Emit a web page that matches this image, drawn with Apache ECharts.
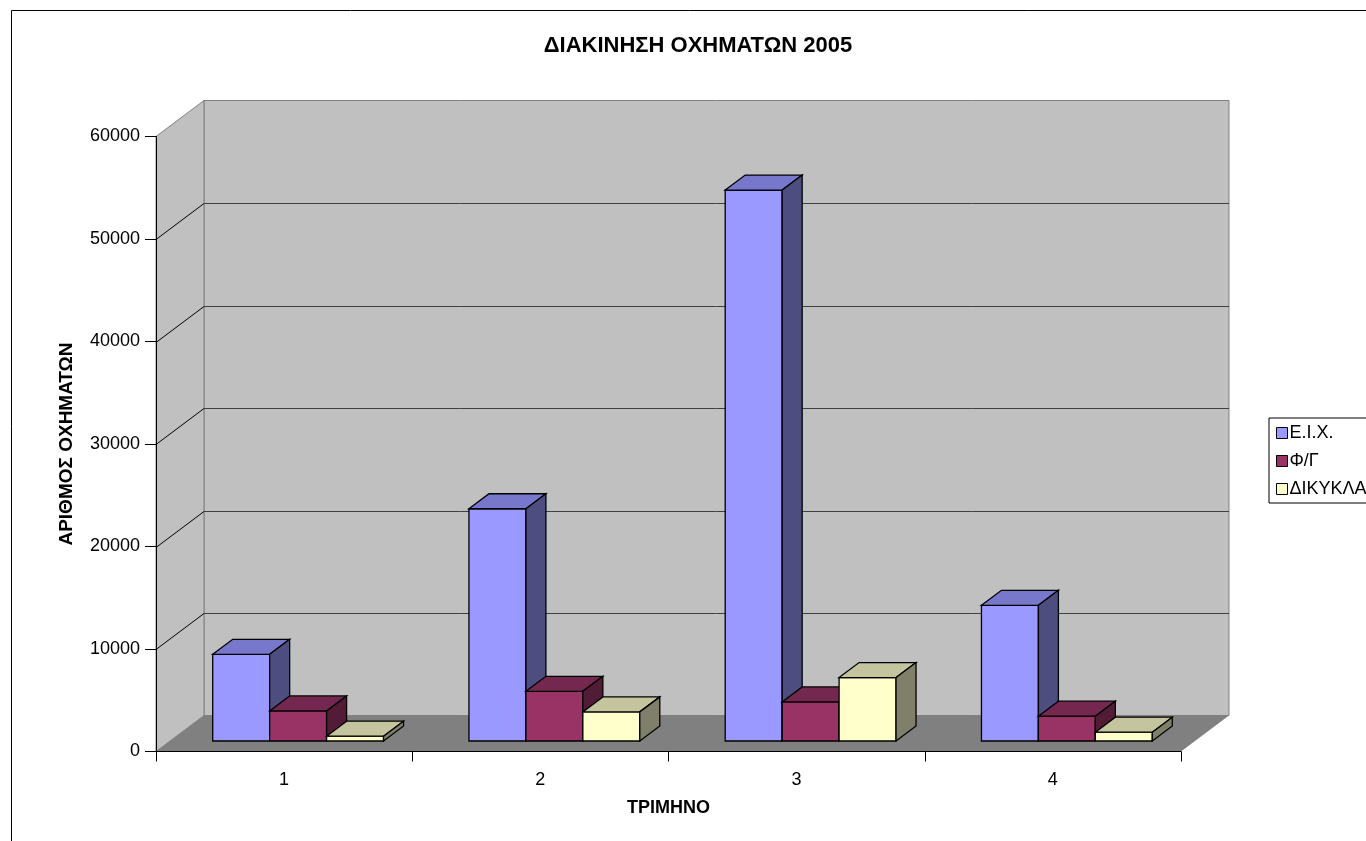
<!DOCTYPE html>
<html>
<head>
<meta charset="utf-8">
<title>ΔΙΑΚΙΝΗΣΗ ΟΧΗΜΑΤΩΝ 2005</title>
<script src="https://cdn.jsdelivr.net/npm/echarts@6/dist/echarts.min.js"></script>
<style>
  html, body { margin: 0; padding: 0; background: #fff; }
  #chart { width: 1366px; height: 841px; }
</style>
</head>
<body>
<div id="chart"></div>
<script>
// Quarters (category axis)
const categories = ['1', '2', '3', '4'];
// Series names shown in the legend
const seriesNames = ['Ε.Ι.Χ.', 'Φ/Γ', 'ΔΙΚΥΚΛΑ'];
// Vehicles per quarter
const eix = [8460, 22660, 53750, 13240];
const fg = [2930, 4850, 3810, 2420];
const dikykla = [470, 2840, 6190, 860];
// Value-axis ticks
const yTicks = [0, 10000, 20000, 30000, 40000, 50000, 60000];

const FONT = 'Arial, "Liberation Sans", sans-serif';
const WALL_DEPTH = [48, -36];   // offset of the back wall from the front plane
const BAR_FRONT = [14, -10.5];  // where the bars' front faces sit inside the box
const BAR_DEPTH = [20, -15];    // depth of each bar

// Face colours: front, top, side
const palettes = [
  ['#9999FF', '#7777CC', '#4D4D80'],
  ['#993366', '#75284F', '#521B36'],
  ['#FFFFCC', '#C4C49E', '#80806A']
];

function poly(points, fill, stroke, lw) {
  return {
    type: 'polygon',
    shape: { points: points },
    style: { fill: fill, stroke: stroke || null, lineWidth: lw || 0, lineJoin: 'miter' }
  };
}
function line(x1, y1, x2, y2, color) {
  return {
    type: 'line',
    shape: { x1: x1, y1: y1, x2: x2, y2: y2 },
    style: { stroke: color, lineWidth: 1 }
  };
}

// Back wall, side wall, floor and gridlines of the 3D box
function renderWalls(params, api) {
  const cs = params.coordSys;
  const L = cs.x, R = cs.x + cs.width, T = cs.y, B = cs.y + cs.height;
  const dx = WALL_DEPTH[0], dy = WALL_DEPTH[1];
  const children = [
    poly([[L + dx, T + dy], [R + dx, T + dy], [R + dx, B + dy], [L + dx, B + dy]], '#C0C0C0', '#808080', 1),
    poly([[L, T], [L + dx, T + dy], [L + dx, B + dy], [L, B]], '#C0C0C0', '#808080', 1),
    poly([[L, B], [L + dx, B + dy], [R + dx, B + dy], [R, B]], '#808080')
  ];
  yTicks.slice(1, -1).forEach(function (t) {
    const y = Math.round(api.coord([0, t])[1]) + 0.5;
    children.push(line(L + dx, y + dy, R + dx, y + dy, '#404040'));
    children.push(line(L, y, L + dx, y + dy, '#000'));
  });
  return { type: 'group', children: children };
}

// One 3D bar: front, top and side faces
function barRenderer(sIdx) {
  const pal = palettes[sIdx];
  return function (params, api) {
    const ci = api.value(0);
    const v = api.value(1);
    const base = api.coord([ci, 0]);
    const top = api.coord([ci, v]);
    const band = api.size([1, 0])[0];
    const bw = band / 4.5;
    const x0 = base[0] - 1.5 * bw + sIdx * bw + BAR_FRONT[0];
    const x1 = x0 + bw;
    const yb = base[1] + BAR_FRONT[1];
    const yt = top[1] + BAR_FRONT[1];
    const dx = BAR_DEPTH[0], dy = BAR_DEPTH[1];
    return {
      type: 'group',
      children: [
        poly([[x0, yt], [x1, yt], [x1, yb], [x0, yb]], pal[0], '#000', 1.3),
        poly([[x0, yt], [x0 + dx, yt + dy], [x1 + dx, yt + dy], [x1, yt]], pal[1], '#000', 1.3),
        poly([[x1, yt], [x1 + dx, yt + dy], [x1 + dx, yb + dy], [x1, yb]], pal[2], '#000', 1.3)
      ]
    };
  };
}

const seriesData = [eix, fg, dikykla];

const chart = echarts.init(document.getElementById('chart'), null, { renderer: 'canvas' });
chart.setOption({
  backgroundColor: '#fff',
  animation: false,
  textStyle: { fontFamily: FONT },
  title: {
    text: 'ΔΙΑΚΙΝΗΣΗ ΟΧΗΜΑΤΩΝ 2005',
    left: 698,
    textAlign: 'center',
    top: 35,
    padding: 0,
    textStyle: { fontFamily: FONT, fontSize: 22, fontWeight: 'bold', color: '#000' }
  },
  graphic: [{
    type: 'rect',
    shape: { x: 11.5, y: 10.5, width: 1400, height: 900 },
    style: { fill: null, stroke: '#000', lineWidth: 1 },
    silent: true,
    z: -10
  }],
  legend: {
    data: seriesNames,
    orient: 'vertical',
    left: 1269,
    top: 418,
    padding: [6, 10, 5, 7],
    itemGap: 10,
    itemWidth: 11,
    itemHeight: 11,
    icon: 'rect',
    backgroundColor: '#fff',
    borderColor: '#000',
    borderWidth: 1,
    borderRadius: 0,
    itemStyle: { borderColor: '#000', borderWidth: 1 },
    textStyle: { fontFamily: FONT, fontSize: 18, color: '#000', padding: [0, 0, 0, -3] }
  },
  grid: { left: 156, top: 136.5, right: 185, bottom: 89.5, containLabel: false },
  xAxis: {
    type: 'category',
    data: categories,
    boundaryGap: true,
    z: 10,
    name: 'ΤΡΙΜΗΝΟ',
    nameLocation: 'middle',
    nameGap: 48,
    nameTextStyle: { fontFamily: FONT, fontSize: 18, fontWeight: 'bold', color: '#000' },
    axisLine: { lineStyle: { color: '#000', width: 1 } },
    axisTick: { show: true, length: 10, lineStyle: { color: '#000' } },
    axisLabel: { fontFamily: FONT, fontSize: 18, color: '#000', margin: 20 },
    splitLine: { show: false }
  },
  yAxis: {
    type: 'value',
    min: 0,
    max: 60000,
    interval: 10000,
    z: 10,
    name: 'ΑΡΙΘΜΟΣ ΟΧΗΜΑΤΩΝ',
    nameLocation: 'middle',
    nameRotate: 90,
    nameGap: 80,
    nameTextStyle: { fontFamily: FONT, fontSize: 19, fontWeight: 'bold', color: '#000' },
    axisLine: { show: true, lineStyle: { color: '#000', width: 1 } },
    axisTick: { show: true, length: 11, lineStyle: { color: '#000' } },
    axisLabel: {
      fontFamily: FONT, fontSize: 18, color: '#000', margin: 16,
      formatter: function (v) { return String(v); }
    },
    splitLine: { show: false }
  },
  series: [{
    type: 'custom',
    silent: true,
    z: 1,
    renderItem: renderWalls,
    data: [[0, 0]]
  }].concat(seriesNames.map(function (name, s) {
    return {
      name: name,
      type: 'custom',
      z: 2,
      itemStyle: { color: palettes[s][0] },
      renderItem: barRenderer(s),
      encode: { x: 0, y: 1 },
      data: seriesData[s].map(function (v, i) { return [i, v]; })
    };
  }))
});
</script>
</body>
</html>
